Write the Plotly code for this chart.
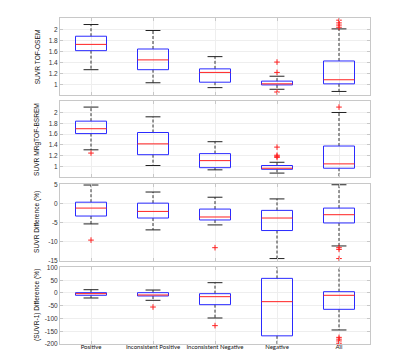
import plotly.graph_objects as go

categories = ["Positive", "Inconsistent Positive", "Inconsistent Negative", "Negative", "All"]

# Panel 1: SUVR TOF-OSEM
p1_upper = [2.10, 1.99, 1.51, 1.15, 2.02]
p1_q3 = [1.885, 1.65, 1.285, 1.06, 1.43]
p1_median = [1.735, 1.45, 1.22, 1.01, 1.085]
p1_q1 = [1.62, 1.27, 1.04, 0.99, 1.01]
p1_lower = [1.27, 1.03, 0.94, 0.91, 0.87]
p1_outliers = [[], [], [], [1.41, 1.22, 0.86], [2.18, 2.13, 2.09, 2.05]]

# Panel 2: SUVR MRgTOF-BSREM
p2_upper = [2.10, 1.92, 1.46, 1.08, 2.00]
p2_q3 = [1.84, 1.63, 1.24, 1.02, 1.38]
p2_median = [1.70, 1.42, 1.11, 0.97, 1.05]
p2_q1 = [1.61, 1.22, 0.98, 0.95, 0.97]
p2_lower = [1.31, 1.02, 0.94, 0.88, 0.75]
p2_outliers = [[1.25], [], [], [1.36, 1.21, 1.19, 1.17], [2.10]]

# Panel 3: SUVR Difference (%)
p3_upper = [4.83, 3.0, 1.64, 1.2, 4.9]
p3_q3 = [0.34, 0.09, -1.46, -1.8, -1.2]
p3_median = [-1.2, -2.07, -3.53, -3.8, -2.93]
p3_q1 = [-3.28, -3.8, -4.31, -7.07, -5.09]
p3_lower = [-5.34, -6.9, -5.6, -14.4, -11.1]
p3_outliers = [[-9.57], [], [-11.55], [], [-11.55, -12.0, -14.4]]

# Panel 4: (SUVR-1) Difference (%)
p4_upper = [13, 11.7, 40.5, 130, 130]
p4_q3 = [1.3, 1.3, -2.6, 57.4, 5.2]
p4_median = [-2.6, -7.8, -14.4, -34, -9]
p4_q1 = [-9, -11.7, -45.7, -168, -64]
p4_lower = [-19.6, -28.7, -98, -230, -145]
p4_outliers = [[], [-55], [-128], [], [-174, -181, -188, -197]]

panels = [
    dict(upper=p1_upper, q3=p1_q3, med=p1_median, q1=p1_q1, lower=p1_lower, out=p1_outliers,
         title="SUVR TOF-OSEM", rng=[0.8, 2.22], tv=[1, 1.2, 1.4, 1.6, 1.8, 2],
         tt=["1", "1.2", "1.4", "1.6", "1.8", "2"], dom=[0.763, 1.0]),
    dict(upper=p2_upper, q3=p2_q3, med=p2_median, q1=p2_q1, lower=p2_lower, out=p2_outliers,
         title="SUVR MRgTOF-BSREM", rng=[0.8, 2.21], tv=[1, 1.2, 1.4, 1.6, 1.8, 2],
         tt=["1", "1.2", "1.4", "1.6", "1.8", "2"], dom=[0.511, 0.745]),
    dict(upper=p3_upper, q3=p3_q3, med=p3_median, q1=p3_q1, lower=p3_lower, out=p3_outliers,
         title="SUVR Difference (%)", rng=[-15, 5.2], tv=[5, 0, -5, -10, -15],
         tt=["5", "0", "-5", "-10", "-15"], dom=[0.255, 0.492]),
    dict(upper=p4_upper, q3=p4_q3, med=p4_median, q1=p4_q1, lower=p4_lower, out=p4_outliers,
         title="(SUVR-1) Difference (%)", rng=[-200, 103], tv=[100, 50, 0, -50, -100, -150, -200],
         tt=["100", "50", "0", "-50", "-100", "-150", "-200"], dom=[0.0, 0.237]),
]

BOX_HW = 0.25
CAP_HW = 0.12
fig = go.Figure()

for pi, p in enumerate(panels):
    xa = "x" if pi == 0 else f"x{pi+1}"
    ya = "y" if pi == 0 else f"y{pi+1}"
    wx, wy, cx, cy, bx, by, mx, my, ox, oy = [], [], [], [], [], [], [], [], [], []
    for i in range(len(categories)):
        c = i + 1
        wx += [c, c, None, c, c, None]
        wy += [p["q3"][i], p["upper"][i], None, p["q1"][i], p["lower"][i], None]
        cx += [c - CAP_HW, c + CAP_HW, None, c - CAP_HW, c + CAP_HW, None]
        cy += [p["upper"][i], p["upper"][i], None, p["lower"][i], p["lower"][i], None]
        bx += [c - BOX_HW, c + BOX_HW, c + BOX_HW, c - BOX_HW, c - BOX_HW, None]
        by += [p["q1"][i], p["q1"][i], p["q3"][i], p["q3"][i], p["q1"][i], None]
        mx += [c - BOX_HW, c + BOX_HW, None]
        my += [p["med"][i], p["med"][i], None]
        for v in p["out"][i]:
            ox.append(c)
            oy.append(v)
    fig.add_trace(go.Scatter(x=wx, y=wy, mode="lines", xaxis=xa, yaxis=ya,
                             line=dict(color="#333333", width=1, dash="3px,2px"), showlegend=False, hoverinfo="skip"))
    fig.add_trace(go.Scatter(x=cx, y=cy, mode="lines", xaxis=xa, yaxis=ya,
                             line=dict(color="#222222", width=1), showlegend=False, hoverinfo="skip"))
    fig.add_trace(go.Scatter(x=bx, y=by, mode="lines", xaxis=xa, yaxis=ya,
                             line=dict(color="#2a2aff", width=1), showlegend=False, hoverinfo="skip"))
    fig.add_trace(go.Scatter(x=mx, y=my, mode="lines", xaxis=xa, yaxis=ya,
                             line=dict(color="#ff2020", width=1), showlegend=False, hoverinfo="skip"))
    fig.add_trace(go.Scatter(x=ox, y=oy, mode="markers", xaxis=xa, yaxis=ya,
                             marker=dict(symbol="cross-thin", size=4, line=dict(color="#ff2020", width=1)),
                             showlegend=False, hoverinfo="skip", cliponaxis=False))

axis_common = dict(showline=True, mirror="ticks", linecolor="#c8c8c8", linewidth=1,
                   gridcolor="#eeeeee", showgrid=True, zeroline=False,
                   ticks="inside", ticklen=3, tickcolor="#c8c8c8")
layout = dict(width=400, height=352, margin=dict(l=52, r=38, t=7, b=16),
              plot_bgcolor="white", paper_bgcolor="white",
              font=dict(family="Liberation Sans, Arial", size=6.5, color="#222222"))

annotations = []
for pi, p in enumerate(panels):
    xk = "xaxis" if pi == 0 else f"xaxis{pi+1}"
    yk = "yaxis" if pi == 0 else f"yaxis{pi+1}"
    ya = "y" if pi == 0 else f"y{pi+1}"
    xa = "x" if pi == 0 else f"x{pi+1}"
    layout[xk] = dict(axis_common, domain=[0, 1], anchor=ya, range=[0.5, 5.5],
                      tickvals=[1, 2, 3, 4, 5], ticktext=categories, tickangle=0,
                      showticklabels=(pi == 3), ticklabelstandoff=-3,
                      tickfont=dict(family="Lato, Liberation Sans", size=6, color="#111111"))
    layout[yk] = dict(axis_common, domain=p["dom"], anchor=xa, range=p["rng"],
                      tickvals=p["tv"], ticktext=p["tt"],
                      tickfont=dict(size=6.5, color="#333333"))
    annotations.append(dict(text=p["title"], xref="paper", yref="paper", x=-0.072,
                            y=(p["dom"][0] + p["dom"][1]) / 2, xanchor="center", yanchor="middle",
                            textangle=-90, showarrow=False,
                            font=dict(family="Liberation Sans, Arial", size=6.6, color="#111111")))

layout["annotations"] = annotations
fig.update_layout(**layout)
fig.write_html("out.html")
